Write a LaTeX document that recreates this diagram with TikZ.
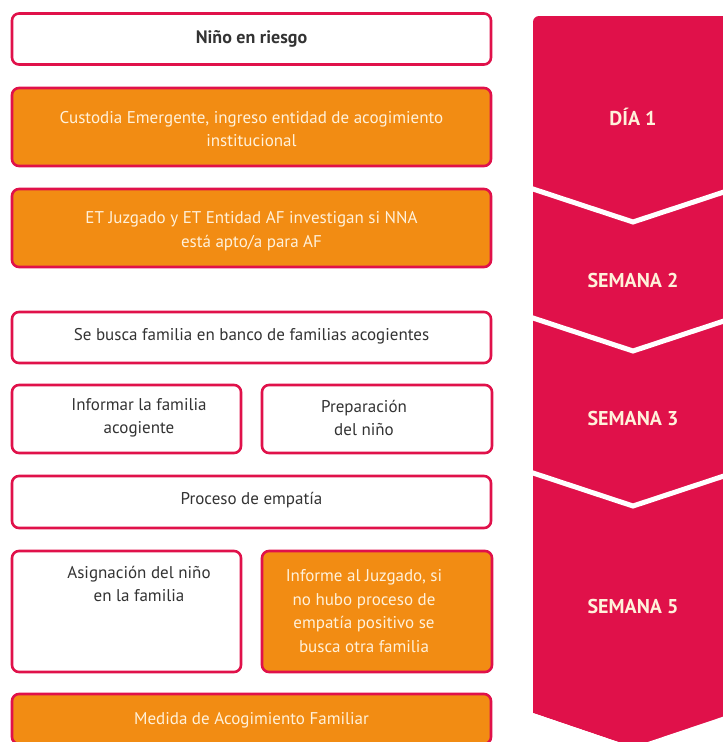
\documentclass[tikz,border=0pt]{standalone}
\usepackage{fontspec}
\setmainfont{PT Sans}
\definecolor{crim}{HTML}{E0114A}
\definecolor{orng}{HTML}{F28C13}
\definecolor{cream}{HTML}{FFF1DA}
\definecolor{dark}{HTML}{333333}
\tikzset{
  box/.style={draw=crim, line width=2.6pt, rounded corners=7pt, fill=white, inner sep=0pt},
  obox/.style={box, fill=orng},
  txt/.style={font=\fontsize{17}{23.5}\selectfont, text=dark, align=center, inner sep=0pt},
  otxt/.style={txt, text=cream},
  lab/.style={font=\fontsize{20}{22}\selectfont\bfseries, text=cream, inner sep=0pt},
  notch/.style={draw=white, line width=5pt}
}
\begin{document}
\begin{tikzpicture}[x=1pt,y=-1pt]
\clip (0,0) rectangle (723,742);
\fill[white] (0,0) rectangle (723,742);
% timeline chevron
\fill[crim, rounded corners=6pt] (533,747) -- (533,16) -- (740,16) -- (740,740) [sharp corners] -- (740,713) -- (633,747) -- (533,713) -- cycle;
\fill[white] (533,713) -- (633,747) -- (740,711) -- (740,760) -- (533,760) -- cycle;
\coordinate (n1l) at (530,188); \coordinate (n1m) at (633,222); \coordinate (n1r) at (736,188);
\coordinate (n2l) at (530,317); \coordinate (n2m) at (633,351); \coordinate (n2r) at (736,317);
\coordinate (n3l) at (530,472); \coordinate (n3m) at (633,506); \coordinate (n3r) at (736,472);
\draw[notch] (n1l) -- (n1m) -- (n1r);
\draw[notch] (n2l) -- (n2m) -- (n2r);
\draw[notch] (n3l) -- (n3m) -- (n3r);
\node[lab] (d1) at (633,117) {DÍA 1};
\node[lab] (s2) at (633,280) {SEMANA 2};
\node[lab] (s3) at (633,418) {SEMANA 3};
\node[lab] (s5) at (633,606) {SEMANA 5};
% boxes
\node[box, minimum width=479pt, minimum height=51pt] (b1) at (251.5,39) {};
\node[txt, font=\fontsize{18}{23.5}\selectfont\bfseries] (t1) at (251.5,39) {Niño en riesgo};
\node[obox, minimum width=479pt, minimum height=78pt] (b2) at (251.5,127) {};
\node[otxt] (t2) at (251.5,129) {Custodia Emergente, ingreso entidad de acogimiento\\institucional};
\node[obox, minimum width=479pt, minimum height=78pt] (b3) at (251.5,228) {};
\node[otxt] (t3) at (251.5,231) {ET Juzgado y ET Entidad AF investigan si NNA\\está apto/a para AF};
\node[box, minimum width=479pt, minimum height=51pt] (b4) at (251.5,337.5) {};
\node[txt] (t4) at (251.5,336) {Se busca familia en banco de familias acogientes};
\node[box, minimum width=229pt, minimum height=68pt] (b5a) at (126.5,419) {};
\node[txt] (t5a) at (139,418) {Informar la familia\\acogiente};
\node[box, minimum width=230pt, minimum height=68pt] (b5b) at (377,419) {};
\node[txt] (t5b) at (364,418) {Preparación\\del niño};
\node[box, minimum width=479pt, minimum height=52pt] (b6) at (251.5,502) {};
\node[txt] (t6) at (251.5,500) {Proceso de empatía};
\node[box, minimum width=229pt, minimum height=121pt] (b7a) at (126.5,611.5) {};
\node[txt, anchor=north] (t7a) at (139,566) {Asignación del niño\\en la familia};
\node[obox, minimum width=230pt, minimum height=121pt] (b7b) at (377,611.5) {};
\node[otxt] (t7b) at (364,611) {Informe al Juzgado, si\\no hubo proceso de\\empatía positivo se\\busca otra familia};
\node[obox, minimum width=479pt, minimum height=50pt] (b8) at (251.5,719) {};
\node[otxt] (t8) at (251.5,720) {Medida de Acogimiento Familiar};
\end{tikzpicture}
\end{document}
